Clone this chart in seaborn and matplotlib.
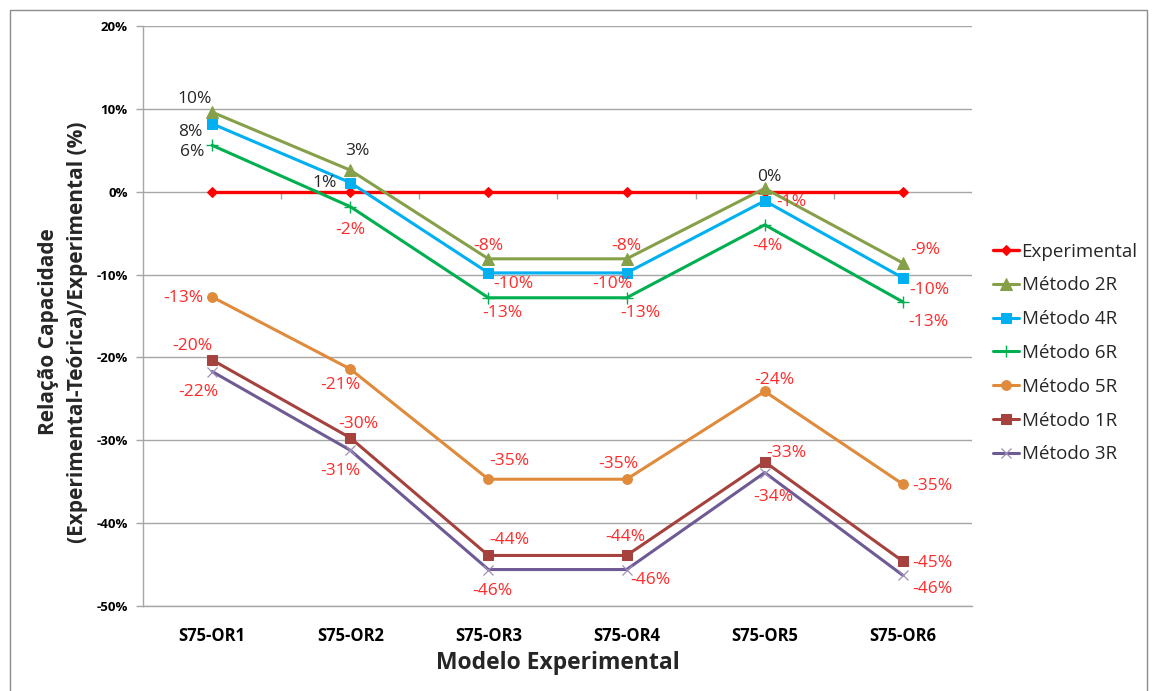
import matplotlib
matplotlib.use("Agg")
import matplotlib.pyplot as plt
from matplotlib.patches import Rectangle
from matplotlib.ticker import FuncFormatter, FixedLocator
import numpy as np
import pandas as pd
import seaborn as sns

# ---- data (relative difference, %) ----
modelos = ["S75-OR1", "S75-OR2", "S75-OR3", "S75-OR4", "S75-OR5", "S75-OR6"]
experimental = [0.0, 0.0, 0.0, 0.0, 0.0, 0.0]
metodo_2r = [9.6, 2.6, -8.1, -8.1, 0.4, -8.6]
metodo_4r = [8.2, 1.1, -9.8, -9.8, -1.1, -10.4]
metodo_6r = [5.6, -1.8, -12.8, -12.8, -4.0, -13.3]
metodo_5r = [-12.7, -21.4, -34.7, -34.7, -24.1, -35.3]
metodo_1r = [-20.3, -29.7, -43.9, -43.9, -32.6, -44.6]
metodo_3r = [-21.7, -31.2, -45.6, -45.6, -33.9, -46.3]
y_ticks = [-50, -40, -30, -20, -10, 0, 10, 20]

series = [
    ("Experimental", experimental),
    ("Método 2R", metodo_2r),
    ("Método 4R", metodo_4r),
    ("Método 6R", metodo_6r),
    ("Método 5R", metodo_5r),
    ("Método 1R", metodo_1r),
    ("Método 3R", metodo_3r),
]

# ---- styles ----
styles = {
    "Experimental": dict(color="#FF0000", marker="D", markersize=5.5, lw=2.4),
    "Método 2R": dict(color="#86A04A", marker="^", markersize=8, lw=2.2),
    "Método 4R": dict(color="#00B0F0", marker="s", markersize=7.5, lw=2.2),
    "Método 6R": dict(color="#00B050", marker="+", markersize=9, lw=2.2, mew=1.0),
    "Método 5R": dict(color="#E08A3C", marker="o", markersize=7, lw=2.2),
    "Método 1R": dict(color="#A5423E", marker="s", markersize=7.5, lw=2.2),
    "Método 3R": dict(color="#6E5A94", marker="x", markersize=7, lw=2.2, mew=0.9,
                      mec="#9C8DBA"),
}

# label offsets in pixels for each point (dx, dy)
label_offsets = {
    "Método 2R": [(-17, 13), (7, 19), (0, 13), (0, 13), (5, 11), (22, 13)],
    "Método 4R": [(-22, -8), (-26, 0), (25, -11), (-14, -11), (27, -1), (26, -12)],
    "Método 6R": [(-20, -7), (0, -23), (14, -15), (14, -15), (3, -21), (25, -20)],
    "Método 5R": [(-29, -1), (-10, -16), (21, 18), (-8, 15), (10, 11), (29, -2)],
    "Método 1R": [(-20, 14), (8, 14), (21, 15), (-1, 18), (22, 9), (29, -2)],
    "Método 3R": [(-14, -20), (-10, -21), (4, -21), (24, -10), (9, -24), (29, -14)],
}

sns.set_theme(style="white")
plt.rcParams["font.family"] = ["Open Sans", "DejaVu Sans"]

fig = plt.figure(figsize=(11.52, 6.91), dpi=100)
ax = fig.add_axes([143 / 1152, 1 - 606 / 691, (972 - 143) / 1152, (606 - 26) / 691])

grid_c = "#A6A6A6"
ax.set_axisbelow(True)
ax.yaxis.set_major_locator(FixedLocator(y_ticks))
ax.grid(axis="y", color=grid_c, lw=1.0)
ax.grid(axis="x", visible=False)

for name, vals in series:
    st = dict(styles[name])
    color = st.pop("color")
    lw = st.pop("lw")
    df = pd.DataFrame({"Modelo": modelos, "Valor": vals})
    sns.lineplot(data=df, x="Modelo", y="Valor", ax=ax, color=color, lw=lw,
                 label=name, sort=False, mec=st.pop("mec", color),
                 mfc=color, **st)

xs = np.arange(len(modelos))
for name, vals in series:
    if name not in label_offsets:
        continue
    for i, v in enumerate(vals):
        r = int(round(v))
        txt = f"{r}%"
        col = "#262626" if r >= 0 else "#FF2A2A"
        dx, dy = label_offsets[name][i]
        ax.annotate(txt, (xs[i], v), xytext=(dx, dy), textcoords="offset pixels",
                    ha="center", va="center", fontsize=12.5, color=col)

ax.set_xlim(-0.5, len(modelos) - 0.5)
ax.set_ylim(-50, 20)
ax.yaxis.set_major_formatter(FuncFormatter(lambda v, p: f"{v:.0f}%"))

for s in ["top", "right"]:
    ax.spines[s].set_visible(False)
for s in ["left", "bottom"]:
    ax.spines[s].set_color(grid_c)
    ax.spines[s].set_linewidth(1.0)

ax.tick_params(axis="y", left=True, direction="out", length=5, width=1,
               color=grid_c, pad=6, labelsize=9.5, labelcolor="black")
ax.tick_params(axis="x", bottom=False, pad=9, labelsize=12, labelcolor="black")
for lab in ax.get_xticklabels() + ax.get_yticklabels():
    lab.set_fontweight("bold")
ax.set_xlabel("")
ax.set_ylabel("")

# category axis crossing at zero
sec = ax.secondary_xaxis(location=50 / 70)
sec.set_xticks(np.arange(0.5, len(modelos) - 0.5, 1.0))
sec.set_xticklabels([])
sec.spines["top"].set_visible(False)
sec.spines["bottom"].set_visible(False)
sec.tick_params(axis="x", direction="out", bottom=True, top=False, length=5,
                width=1, color=grid_c, labelbottom=False, labeltop=False)

fig.text(558 / 1152, 1 - 663 / 691, "Modelo Experimental", ha="center", va="center",
         fontsize=16.5, fontweight="bold")
fig.text(63 / 1152, 1 - 332 / 691,
         "Relação Capacidade\n(Experimental-Teórica)/Experimental (%)",
         ha="center", va="center", rotation=90, fontsize=15, fontweight="bold",
         multialignment="center", linespacing=1.45)

leg = ax.legend(loc="center left", bbox_to_anchor=(985 / 1152, 1 - 353 / 691),
                bbox_transform=fig.transFigure, frameon=False, fontsize=13.5,
                handlelength=1.4, handletextpad=0.15, labelspacing=0.84,
                borderaxespad=0)

fig.patches.append(Rectangle((10 / 1152, -0.02), (1147 - 10) / 1152, 1.02 - 10 / 691,
                             transform=fig.transFigure, fill=False,
                             edgecolor="#8C8C8C", lw=1.0))

fig.savefig("out.png", dpi=100)
